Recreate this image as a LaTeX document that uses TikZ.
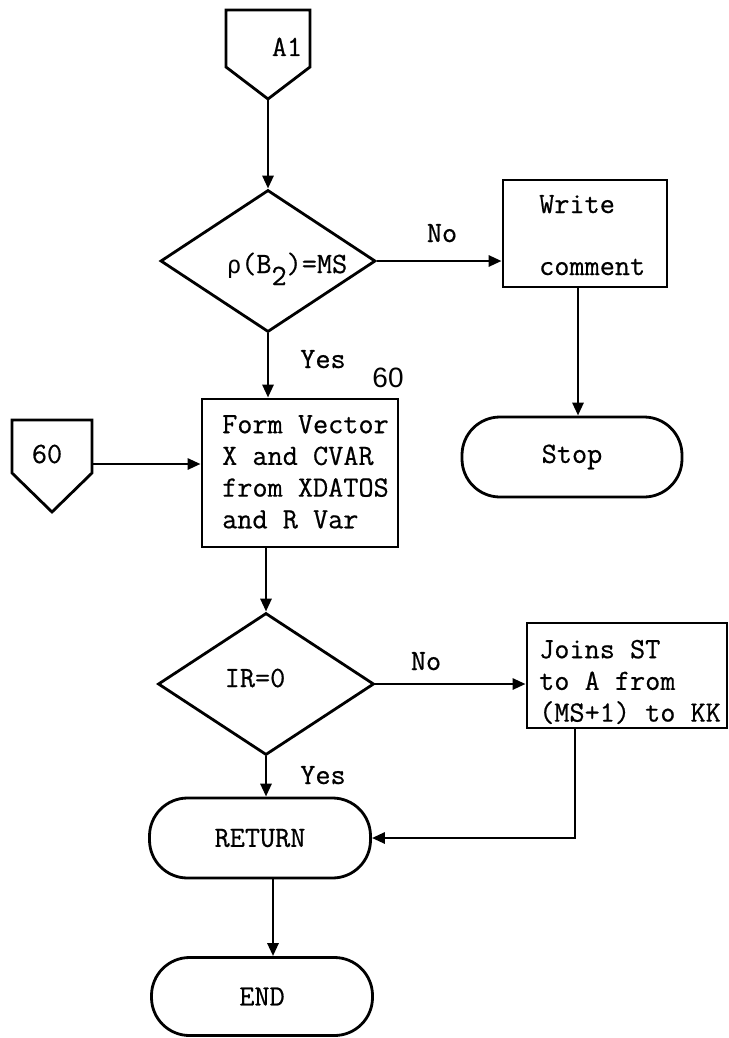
\documentclass[tikz,border=0pt]{standalone}
\usepackage{fontspec}
\setmonofont{Latin Modern Mono}[FakeBold=0.6]
\newfontfamily\lsans{Liberation Sans}
\newfontfamily\dvmono{DejaVu Sans Mono}
\usetikzlibrary{shapes.geometric,arrows.meta}
\begin{document}
\begin{tikzpicture}[x=1pt,y=-1pt,
  ln/.style={line width=2.8pt,line join=miter},
  arr/.style={line width=2.8pt,-{Triangle[length=13pt,width=11pt]}},
  box/.style={draw,line width=2.8pt,rectangle,inner sep=0pt},
  term/.style={draw,line width=2.8pt,rectangle,rounded corners=38pt,inner sep=0pt},
  dec/.style={draw,line width=2.8pt,diamond,inner sep=0pt},
  tt/.style={font=\fontsize{29.4}{31.7}\selectfont\ttfamily,inner sep=0pt},
  lbl/.style={tt}]
\useasboundingbox (0,0) rectangle (728,1038);
\fill[white] (0,0) rectangle (728,1038);

% A1 off-page connector
\draw[ln] (226,10) -- (310,10) -- (310,67) -- (268,99) -- (226,67) -- cycle;
\coordinate (a1tip) at (268,99);
\node[tt,anchor=base] (a1) at (287,56) {A1};

% decision 1
\node[dec,minimum width=215pt,minimum height=142pt] (d1) at (268,261) {};
\node[tt,anchor=base] (d1t) at (287,273) {{\dvmono\fontsize{24}{28}\selectfont ρ}(B\raisebox{-12pt}{2})=MS};
\draw[arr] (a1tip) -- (d1.north);

% write comment
\node[box,minimum width=164pt,minimum height=107pt] (wr) at (585,233.5) {};
\node[tt,anchor=base west] (wrt1) at (539,213) {Write};
\node[tt,anchor=base west] (wrt2) at (539,275) {comment};
\draw[arr] (d1.east) -- (d1.east -| wr.west);
\node[lbl,anchor=base] (no1) at (442,242) {No};

% stop
\node[term,tt,minimum width=220pt,minimum height=80pt] (stop) at (572,457) {Stop};
\draw[arr] ([xshift=-7pt]wr.south) -- ([xshift=-7pt]wr.south |- stop.north);

% yes / 60 labels
\node[lbl,anchor=base] (yes1) at (323,368) {Yes};
\node[anchor=base,inner sep=0pt,font=\fontsize{28}{30}\selectfont\lsans] (l60) at (388,387) {60};

% form vector box
\node[box,minimum width=196pt,minimum height=148pt] (form) at (300,473) {};
\node[tt,align=left,anchor=north west] (formt) at (222,410.8)
  {\strut Form Vector\\\strut X and CVAR\\\strut from XDATOS\\\strut and R Var};
\draw[arr] (d1.south) -- (d1.south |- form.north);

% 60 connector
\draw[ln] (12,420) -- (92,420) -- (92,473) -- (52,512) -- (12,473) -- cycle;
\node[tt,anchor=base] (c60) at (47,463) {60};
\coordinate (c60e) at (92,464);
\draw[arr] (c60e) -- (c60e -| form.west);

% decision 2
\node[dec,minimum width=216pt,minimum height=142pt] (d2) at (266,684) {};
\node[tt,anchor=base] (d2t) at (255,687) {IR=0};
\draw[arr] (d2.north |- form.south) -- (d2.north);

% joins box
\node[box,minimum width=200pt,minimum height=105pt] (jn) at (627,675.5) {};
\node[tt,align=left,anchor=north west] (jnt) at (539,635.8)
  {\strut Joins ST\\\strut to A from\\\strut (MS+1) to KK};
\draw[arr] (d2.east) -- (d2.east -| jn.west);
\node[lbl,anchor=base] (no2) at (426,670) {No};
\node[lbl,anchor=base] (yes2) at (323,784) {Yes};

% return / end
\node[term,tt,minimum width=221pt,minimum height=80pt] (ret) at (260,838) {RETURN};
\draw[arr] (d2.south) -- (d2.south |- ret.north);
\draw[arr] ([xshift=-52pt]jn.south) |- (ret.east);
\node[term,tt,minimum width=221pt,minimum height=78pt] (endn) at (262,996.5) {END};
\draw[arr] ([xshift=13pt]ret.south) -- ([xshift=13pt]ret.south |- endn.north);
\end{tikzpicture}
\end{document}
